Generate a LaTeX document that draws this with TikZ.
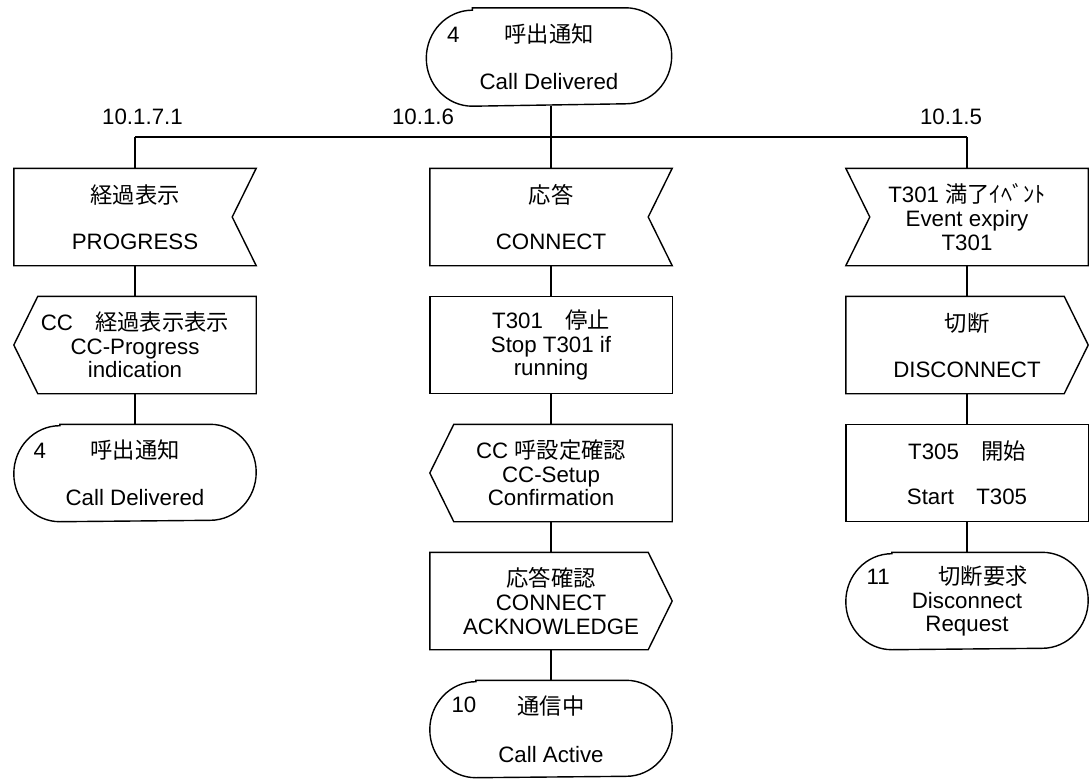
\documentclass[tikz,border=0pt]{standalone}
\usepackage{fontspec}
\setmainfont{Liberation Sans}
\newfontfamily\cjk{Noto Sans CJK JP}
\newcommand\jtext[1]{{\cjk #1}}
\usetikzlibrary{calc}

% outlines drawn over the bounding box of a named node
\newcommand\inputR[1]{\draw (#1.north west) -- (#1.north east) -- ($(#1.east)+(-24,0)$) -- (#1.south east) -- (#1.south west) -- cycle;}
\newcommand\inputL[1]{\draw (#1.north west) -- (#1.north east) -- (#1.south east) -- (#1.south west) -- ($(#1.west)+(24,0)$) -- cycle;}
\newcommand\outputL[1]{\draw ($(#1.north west)+(24,0)$) -- (#1.north east) -- (#1.south east) -- ($(#1.south west)+(24,0)$) -- (#1.west) -- cycle;}
\newcommand\outputR[1]{\draw (#1.north west) -- ($(#1.north east)+(-24,0)$) -- (#1.east) -- ($(#1.south east)+(-24,0)$) -- (#1.south west) -- cycle;}
\newcommand\taskbox[1]{\draw (#1.north west) rectangle (#1.south east);}
\newcommand\statebox[1]{\draw ($(#1.north west)+(46,0)$) -- ($(#1.north east)+(-46,0)$)
  arc[start angle=90, end angle=-90, x radius=46pt, y radius=48pt]
  -- ($(#1.south west)+(46,0)$)
  arc[start angle=270, end angle=90, x radius=46pt, y radius=48pt] -- cycle;}

\begin{document}
\begin{tikzpicture}[x=1pt, y=-1pt, line width=1.4pt,
  txt/.style={font=\fontsize{22.3}{23.7}\selectfont, inner sep=0pt},
  sym/.style={txt, minimum width=241pt, minimum height=96pt, align=center},
  num/.style={txt, anchor=west},
]
\useasboundingbox (0,0) rectangle (1090,779);

% top state
\node[sym, minimum width=244pt, minimum height=97pt] (s0) at (549,57) {\jtext{呼出通知}\\[23pt]Call Delivered};
\statebox{s0}
\node[num] (s0n) at ($(s0.west)+(20,-22)$) {4};

% branch bus and labels
\coordinate (busM) at (551,137);
\coordinate (busL) at (135,137);
\coordinate (busR) at (967,137);
\node[txt, anchor=base] (l1) at (142.5,124) {10.1.7.1};
\node[txt, anchor=base] (l2) at (423,124) {10.1.6};
\node[txt, anchor=base] (l3) at (951,124) {10.1.5};

% left column
\node[sym] (p1) at (135,217) {\jtext{経過表示}\\[22pt]PROGRESS};
\inputR{p1}
\node[sym] (p2) at (135,345) {CC\jtext{　経過表示表示}\\CC-Progress\\indication};
\outputL{p2}
\node[sym] (p3) at (135,473) {\jtext{呼出通知}\\[23pt]Call Delivered};
\statebox{p3}
\node[num] (p3n) at ($(p3.west)+(19,-22)$) {4};

% middle column
\node[sym] (m1) at (551,217) {\jtext{応答}\\[22pt]CONNECT};
\inputR{m1}
\node[sym] (m2) at (551,345) {T301\jtext{　停止}\\Stop T301 if\\running};
\taskbox{m2}
\node[sym] (m3) at (551,473) {CC \jtext{呼設定確認}\\CC-Setup\\Confirmation};
\outputL{m3}
\node[sym] (m4) at (551,601) {\jtext{応答確認}\\CONNECT\\ACKNOWLEDGE};
\outputR{m4}
\node[sym] (m5) at (551,729) {\jtext{通信中}\\[24pt]Call Active};
\statebox{m5}
\node[num] (m5n) at ($(m5.west)+(21,-24)$) {10};

% right column
\node[sym] (r1) at (967,217) {T301 \jtext{満了ｲﾍﾞﾝﾄ}\\Event expiry\\T301};
\inputL{r1}
\node[sym] (r2) at (967,345) {\jtext{切断}\\[22pt]DISCONNECT};
\outputR{r2}
\node[sym] (r3) at (967,473) {T305\jtext{　開始}\\[21.5pt]Start\jtext{　}T305};
\taskbox{r3}
\node[sym] (r4) at (967,601) {\hspace*{32pt}\jtext{切断要求}\\Disconnect\\Request};
\statebox{r4}
\node[num] (r4n) at ($(r4.west)+(20,-24)$) {11};

% connectors
\draw (s0.south -| busM) -- (busM);
\draw (busL) -- (busR);
\draw (busL) -- (p1.north);
\draw (busM) -- (m1.north);
\draw (busR) -- (r1.north);
\draw (p1) -- (p2);
\draw (p2) -- (p3);
\draw (m1) -- (m2);
\draw (m2) -- (m3);
\draw (m3) -- (m4);
\draw (m4) -- (m5);
\draw (r1) -- (r2);
\draw (r2) -- (r3);
\draw (r3) -- (r4);
\end{tikzpicture}
\end{document}
